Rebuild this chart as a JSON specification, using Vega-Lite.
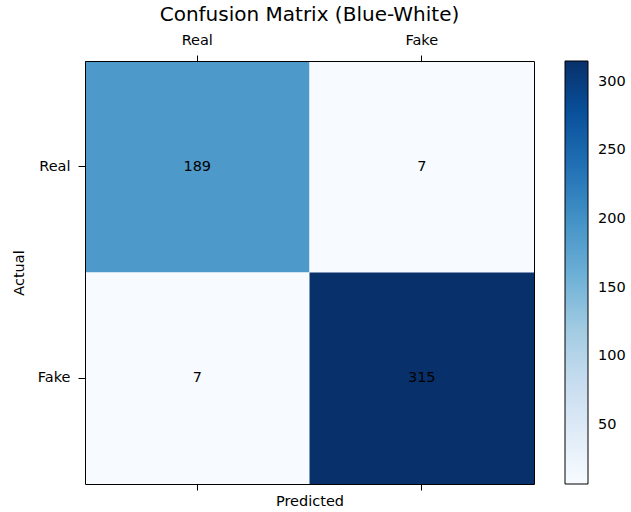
{
  "$schema": "https://vega.github.io/schema/vega-lite/v6.json",
  "width": 449,
  "height": 423,
  "autosize": {"type": "none"},
  "padding": {"left": 85, "top": 61, "right": 97, "bottom": 28},
  "background": "white",
  "title": {
    "text": "Confusion Matrix (Blue-White)",
    "font": "DejaVu Sans",
    "fontSize": 20,
    "fontWeight": "normal",
    "color": "#000",
    "frame": "group",
    "anchor": "middle",
    "offset": 7
  },
  "data": {
    "values": [
      {"actual": "Real", "predicted": "Real", "count": 189},
      {"actual": "Real", "predicted": "Fake", "count": 7},
      {"actual": "Fake", "predicted": "Real", "count": 7},
      {"actual": "Fake", "predicted": "Fake", "count": 315}
    ]
  },
  "layer": [
    {
      "mark": {"type": "rect"},
      "encoding": {
        "x": {
          "field": "predicted",
          "type": "nominal",
          "sort": ["Real", "Fake"],
          "scale": {"paddingInner": 0, "paddingOuter": 0},
          "axis": {"orient": "top", "title": null, "labelAngle": 0, "labelPadding": 8, "zindex": 2}
        },
        "y": {
          "field": "actual",
          "type": "nominal",
          "sort": ["Real", "Fake"],
          "scale": {"paddingInner": 0, "paddingOuter": 0},
          "axis": {"orient": "left", "title": "Actual", "labelAngle": 0, "tickSize": 7, "labelPadding": 8, "titlePadding": 11, "zindex": 2}
        },
        "color": {
          "field": "count",
          "type": "quantitative",
          "scale": {
            "domain": [7, 45.5, 84, 122.5, 161, 199.5, 238, 276.5, 315],
            "range": ["#f7fbff", "#deebf7", "#c6dbef", "#9ecae1", "#6baed6", "#4292c6", "#2171b5", "#08519c", "#08306b"],
            "interpolate": "rgb"
          },
          "legend": {
            "type": "gradient",
            "direction": "vertical",
            "orient": "none",
            "legendX": 480,
            "legendY": 0,
            "padding": 0,
            "title": null,
            "gradientLength": 423,
            "gradientThickness": 23,
            "gradientStrokeColor": "#000",
            "gradientStrokeWidth": 1,
            "values": [50, 100, 150, 200, 250, 300],
            "labelOffset": 10,
            "labelFont": "DejaVu Sans",
            "labelFontSize": 14.5,
            "labelColor": "#000",
            "labelOverlap": false,
            "labelFlush": false
          }
        }
      }
    },
    {
      "mark": {"type": "text", "font": "DejaVu Sans", "fontSize": 14.5, "color": "#000"},
      "encoding": {
        "x": {
          "field": "predicted",
          "type": "nominal",
          "sort": ["Real", "Fake"],
          "axis": {"orient": "bottom", "labels": false, "title": "Predicted", "titlePadding": 4, "zindex": 2}
        },
        "y": {
          "field": "actual",
          "type": "nominal",
          "sort": ["Real", "Fake"],
          "axis": {"orient": "right", "labels": false, "ticks": false, "title": null, "zindex": 2}
        },
        "text": {"field": "count", "type": "quantitative"}
      }
    }
  ],
  "resolve": {"axis": {"x": "independent", "y": "independent"}},
  "config": {
    "view": {"stroke": null},
    "legend": {"gradientVerticalMaxLength": 600},
    "axis": {
      "domain": true,
      "domainColor": "#000",
      "domainWidth": 1,
      "grid": false,
      "ticks": true,
      "tickColor": "#000",
      "tickSize": 6,
      "tickWidth": 1,
      "labelPadding": 6,
      "labelFont": "DejaVu Sans",
      "labelFontSize": 14.5,
      "labelColor": "#000",
      "titleFont": "DejaVu Sans",
      "titleFontSize": 14.5,
      "titleFontWeight": "normal",
      "titleColor": "#000",
      "titlePadding": 6
    }
  }
}
